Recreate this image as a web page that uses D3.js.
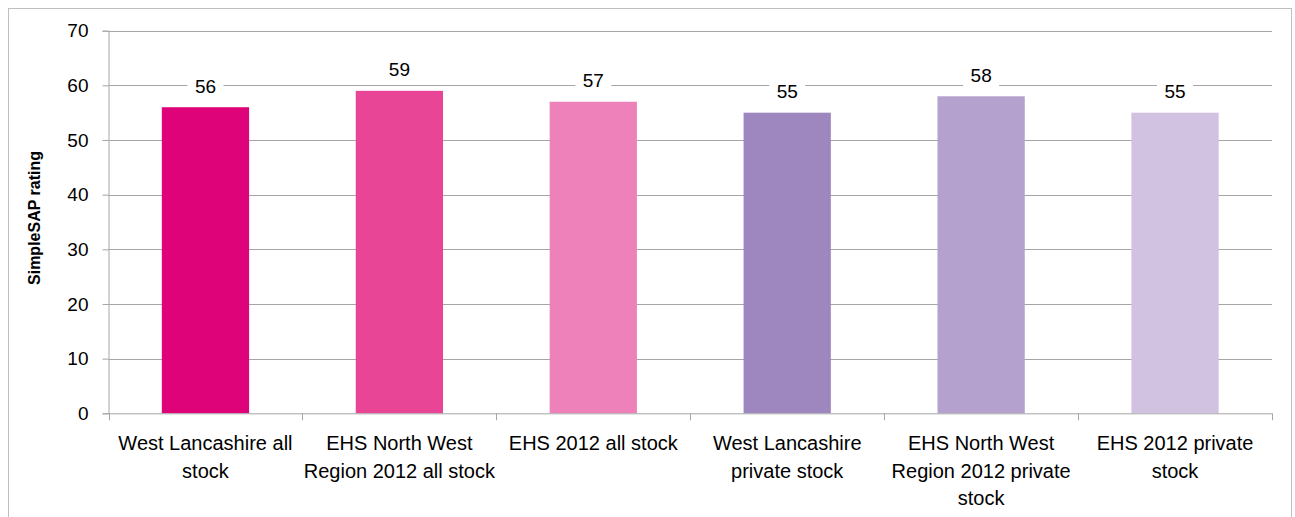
<!DOCTYPE html>
<html>
<head>
<meta charset="utf-8">
<script src="https://cdn.jsdelivr.net/npm/d3@7"></script>
<style>
  html, body { margin: 0; padding: 0; background: #fff; }
  svg { display: block; font-family: "Liberation Sans", Arial, sans-serif; }
</style>
</head>
<body>
<svg id="chart" width="1295" height="517"></svg>
<script>
// SimpleSAP rating by stock group
const categories = [
  "West Lancashire all stock",
  "EHS North West Region 2012 all stock",
  "EHS 2012 all stock",
  "West Lancashire private stock",
  "EHS North West Region 2012 private stock",
  "EHS 2012 private stock"
];
// wrapped category labels, one entry per line
const categoryLines = [
  ["West Lancashire all", "stock"],
  ["EHS North West", "Region 2012 all stock"],
  ["EHS 2012 all stock"],
  ["West Lancashire", "private stock"],
  ["EHS North West", "Region 2012 private", "stock"],
  ["EHS 2012 private", "stock"]
];
const values = [56, 59, 57, 55, 58, 55];
const barColors = ["#DF0379", "#E84597", "#EE81B9", "#9E86BE", "#B4A1CD", "#D0C2E0"];
const yTicks = [0, 10, 20, 30, 40, 50, 60, 70];
const yTitle = "SimpleSAP rating";

const svg = d3.select("#chart");

// outer chart frame
svg.append("rect")
  .attr("x", 8.5).attr("y", 8.5)
  .attr("width", 1283).attr("height", 520)
  .attr("fill", "#fff").attr("stroke", "#BFBFBF").attr("stroke-width", 1);

const plotL = 108.5, plotR = 1272, plotT = 30.7, plotB = 413.3;

const x = d3.scaleBand().domain(categories).range([plotL, plotR]).paddingInner(0.55).paddingOuter(0.275);
const xb = d3.scaleBand().domain(categories).range([plotL, plotR]).padding(0);
const y = d3.scaleLinear().domain([0, 70]).range([plotB, plotT]);

// horizontal gridlines
svg.append("g").selectAll("line").data(yTicks.filter(d => d > 0)).join("line")
  .attr("x1", plotL).attr("x2", plotR)
  .attr("y1", d => Math.round(y(d)) + 0.5).attr("y2", d => Math.round(y(d)) + 0.5)
  .attr("stroke", "#A6A6A6").attr("stroke-width", 1);

// y axis
const yAxis = svg.append("g")
  .attr("transform", `translate(${plotL},0)`)
  .call(d3.axisLeft(y).tickValues(yTicks).tickSize(6).tickPadding(14));
yAxis.select(".domain").attr("stroke", "#A6A6A6");
yAxis.selectAll(".tick line").attr("stroke", "#A6A6A6");
yAxis.selectAll(".tick text").attr("font-size", 19).attr("fill", "#000")
  .attr("font-family", "Liberation Sans, Arial, sans-serif");

// bars
svg.append("g").selectAll("rect").data(values).join("rect")
  .attr("x", (d, i) => x(categories[i]))
  .attr("y", d => y(d))
  .attr("width", x.bandwidth())
  .attr("height", d => y(0) - y(d))
  .attr("fill", (d, i) => barColors[i]);

// x axis
const xAxis = svg.append("g")
  .attr("transform", `translate(0,${plotB})`);
xAxis.append("line").attr("x1", plotL).attr("x2", plotR).attr("y1", 0.5).attr("y2", 0.5)
  .attr("stroke", "#A6A6A6");
const bounds = categories.map(c => xb(c)).concat([plotR]);
xAxis.selectAll("line.tk").data(bounds).join("line").attr("class", "tk")
  .attr("x1", d => Math.round(d) + 0.5).attr("x2", d => Math.round(d) + 0.5)
  .attr("y1", 0).attr("y2", 7).attr("stroke", "#A6A6A6");

// category labels
const lab = svg.append("g").selectAll("text").data(categories).join("text")
  .attr("x", c => xb(c) + xb.bandwidth() / 2)
  .attr("y", plotB + 37)
  .attr("text-anchor", "middle")
  .attr("font-size", 20)
  .attr("fill", "#000");
lab.each(function (c, i) {
  d3.select(this).selectAll("tspan").data(categoryLines[i]).join("tspan")
    .attr("x", xb(c) + xb.bandwidth() / 2)
    .attr("dy", (d, j) => j === 0 ? 0 : 27.5)
    .text(d => d);
});

// value labels with white background
const vl = svg.append("g").selectAll("g").data(values).join("g")
  .attr("transform", (d, i) => `translate(${x(categories[i]) + x.bandwidth() / 2},${y(d) - 21})`);
vl.append("rect").attr("x", -18).attr("y", -11).attr("width", 36).attr("height", 22).attr("fill", "#fff");
vl.append("text").attr("text-anchor", "middle").attr("dy", "0.35em")
  .attr("font-size", 19).attr("fill", "#000").text(d => d);

// y axis title
svg.append("text")
  .attr("transform", `translate(40,${(plotT + plotB) / 2 - 4}) rotate(-90)`)
  .attr("text-anchor", "middle")
  .attr("font-size", 16).attr("font-weight", "bold").attr("fill", "#000")
  .text(yTitle);
</script>
</body>
</html>
